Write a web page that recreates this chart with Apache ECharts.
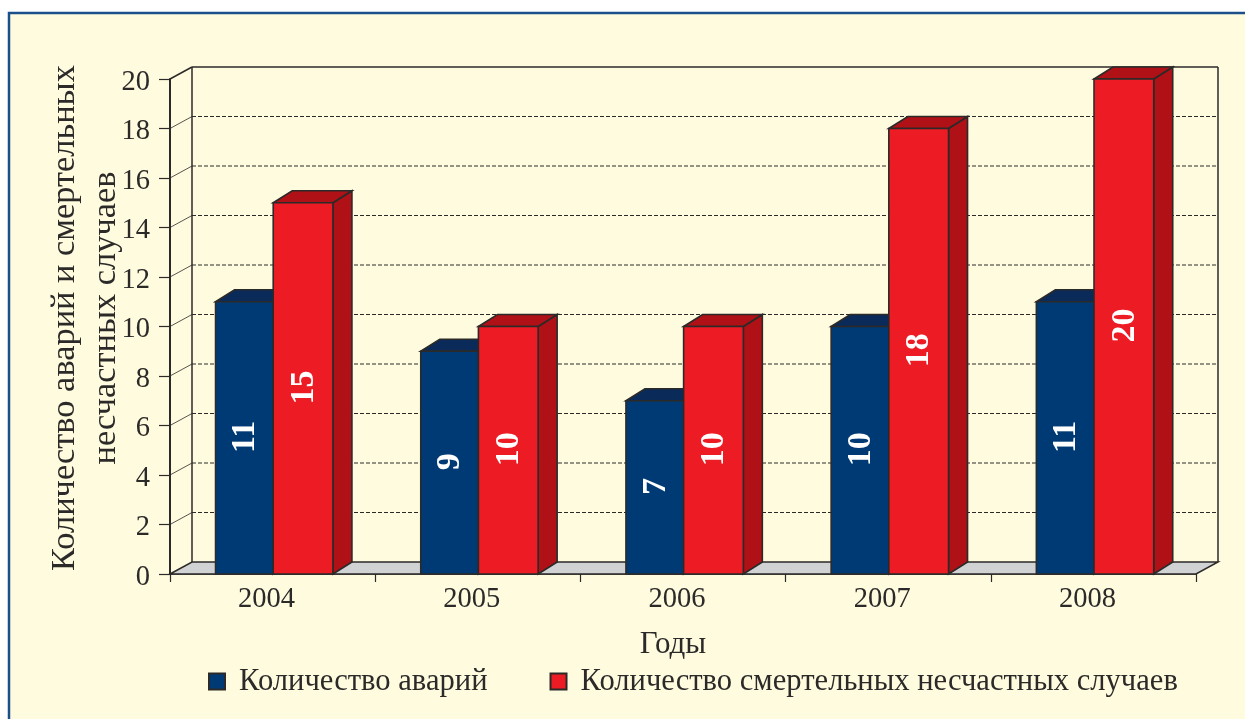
<!DOCTYPE html>
<html><head><meta charset="utf-8">
<style>html,body{margin:0;padding:0;background:#fff;overflow:hidden}#c{width:1245px;height:719px}</style>
<script src="https://cdn.jsdelivr.net/npm/echarts@6/dist/echarts.min.js"></script>
</head><body><div id="c"></div>
<script>
const categories = ['2004','2005','2006','2007','2008'];
const accidents = [11, 9, 7, 10, 11];
const fatalities = [15, 10, 10, 18, 20];
const yTicks = [0,2,4,6,8,10,12,14,16,18,20];
const accidentsName = 'Количество аварий';
const fatalitiesName = 'Количество смертельных несчастных случаев';
const yTitle = 'Количество аварий и смертельных\nнесчастных случаев';
const xTitle = 'Годы';

const FONT = '"Liberation Serif", serif';
const INK = '#2b2a29';
const wallDX = 22, wallDY = 12, barDX = 19, barDY = 12;

function shade(pts, fill){
  return {type:'polygon', shape:{points:pts}, style:{fill, stroke:INK, lineWidth:1.6, lineJoin:'miter'}};
}
function renderWall(params, api){
  const v = api.value(1);
  const cs = params.coordSys;
  const y = api.coord([0, v])[1];
  const l = cs.x, r = cs.x + cs.width;
  const ch = [];
  if (v === yTicks[0]) {
    ch.push({type:'polygon', shape:{points:[[l,y],[l+wallDX,y-wallDY],[r+wallDX,y-wallDY],[r,y]]},
      style:{fill:'#d1d2d4', stroke:INK, lineWidth:1.5}});
    const top = api.coord([0, yTicks[yTicks.length-1]])[1];
    ch.push({type:'line', shape:{x1:l+wallDX,y1:y-wallDY,x2:l+wallDX,y2:top-wallDY}, style:{stroke:INK, lineWidth:1.5}});
    ch.push({type:'line', shape:{x1:r+wallDX,y1:y-wallDY,x2:r+wallDX,y2:top-wallDY}, style:{stroke:INK, lineWidth:1.5}});
  } else {
    const isTop = v === yTicks[yTicks.length-1];
    ch.push({type:'line', shape:{x1:l,y1:y,x2:l+wallDX,y2:y-wallDY}, style:{stroke:INK, lineWidth:isTop?1.5:0.8}});
    ch.push({type:'line', shape:{x1:l+wallDX,y1:y-wallDY,x2:r+wallDX,y2:y-wallDY},
      style:{stroke:INK, lineWidth:isTop?1.5:1, lineDash:isTop?null:[4,2]}});
  }
  return {type:'group', children:ch};
}
function barRenderer(f0, f1, front, side){
  return function(params, api){
    const idx = api.value(0), v = api.value(1);
    const c = api.coord([idx, v]), b = api.coord([idx, 0]);
    const band = api.size([1,0])[0];
    const x0 = c[0] + f0*band, x1 = c[0] + f1*band, yt = c[1], yb = b[1];
    return {type:'group', children:[
      shade([[x1,yb],[x1+barDX,yb-barDY],[x1+barDX,yt-barDY],[x1,yt]], side),
      shade([[x0,yt],[x0+barDX,yt-barDY],[x1+barDX,yt-barDY],[x1,yt]], side),
      shade([[x0,yb],[x0,yt],[x1,yt],[x1,yb]], front),
      {type:'text', x:(x0+x1)/2+1, y:(yt+yb)/2-1, rotation:Math.PI/2,
        style:{text:String(v), fill:'#fff', font:'bold 34px '+FONT, align:'center', verticalAlign:'middle'}}
    ]};
  };
}
const chart = echarts.init(document.getElementById('c'), null, {renderer:'canvas'});
chart.setOption({
  animation:false,
  backgroundColor:'#fff',
  textStyle:{fontFamily:FONT},
  graphic:[{type:'rect', z:-10, silent:true,
    shape:{x:9,y:13,width:1300,height:800},
    style:{fill:'#fffbde', stroke:'#1a4f8a', lineWidth:2.5}}],
  grid:{left:170, right:49, top:79, bottom:145, containLabel:false, outerBoundsMode:'none'},
  legend:{
    left:208, top:666, itemWidth:16, itemHeight:16, itemGap:62, padding:0,
    data:[accidentsName, fatalitiesName], icon:'rect',
    textStyle:{fontFamily:FONT, fontSize:30.6, color:INK, padding:[0,0,0,9]}
  },
  xAxis:{type:'category', data:categories, boundaryGap:true,
    name:xTitle, nameLocation:'middle', nameGap:55,
    nameTextStyle:{fontFamily:FONT, fontSize:31, color:INK, padding:[0,20,0,0]},
    axisLine:{show:true, lineStyle:{color:INK, width:1.5}},
    axisTick:{show:true, alignWithLabel:false, length:8, lineStyle:{color:INK, width:1.2}},
    axisLabel:{fontFamily:FONT, fontSize:28.5, color:INK, margin:11, padding:[0,12,0,0]},
    splitLine:{show:false}
  },
  yAxis:{type:'value', min:0, max:20, interval:2,
    name:yTitle, nameLocation:'middle', nameGap:44, nameRotate:90, nameMoveOverlap:false,
    nameTextStyle:{fontFamily:FONT, fontSize:34.4, color:INK, lineHeight:41, align:'center', padding:[0,0,0,17]},
    axisLine:{show:true, lineStyle:{color:INK, width:2}},
    axisTick:{show:true, length:11, lineStyle:{color:INK, width:1.2}},
    axisLabel:{color:INK, margin:20, formatter:'{a|{value}}',
      rich:{a:{fontFamily:FONT, fontSize:28.5, color:INK, lineHeight:36, verticalAlign:'bottom'}}},
    splitLine:{show:false}
  },
  series:[
    {type:'custom', name:'wall', z:1, silent:true, renderItem:renderWall,
      encode:{x:0,y:1}, data:yTicks.map(v=>[0,v]), tooltip:{show:false}},
    {type:'custom', name:accidentsName, z:2, renderItem:barRenderer(-0.278,0.003,'#003a75','#0a2a5a'),
      encode:{x:0,y:1}, itemStyle:{color:'#003a75', borderColor:INK, borderWidth:1.5},
      data:accidents.map((v,i)=>[i,v])},
    {type:'custom', name:fatalitiesName, z:3, renderItem:barRenderer(0.003,0.294,'#ed1c24','#b01116'),
      encode:{x:0,y:1}, itemStyle:{color:'#ed1c24', borderColor:INK, borderWidth:1.5},
      data:fatalities.map((v,i)=>[i,v])}
  ]
});
</script></body></html>
